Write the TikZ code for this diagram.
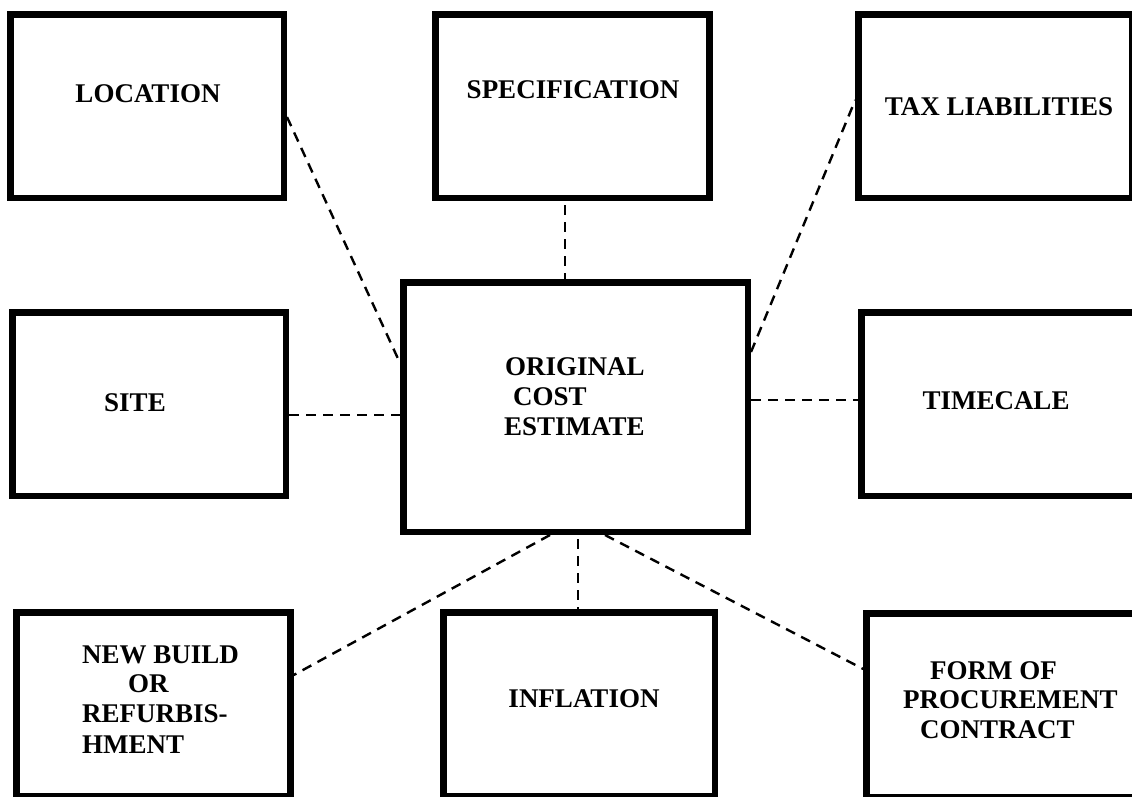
\documentclass[tikz,border=0pt]{standalone}
\usepackage{fontspec}
\setmainfont{Liberation Serif}
\begin{document}
\begin{tikzpicture}[x=1pt,y=-1pt,
  box/.style={draw=black,line width=6.5pt,inner sep=0pt,minimum width=274pt,minimum height=183.5pt},
  lbl/.style={inner sep=0pt,font=\fontsize{27}{30}\selectfont\bfseries},
  link/.style={draw=black,line width=2.4pt,dash pattern=on 10pt off 7pt}]
\clip (0,0) rectangle (1132,796);
\fill[white] (0,0) rectangle (1132,796);
% boxes
\node[box,minimum width=273.5pt] (loc) at (147,106) {};
\node[box] (spec) at (572.5,106) {};
\node[box] (tax) at (995.5,106) {};
\node[box,minimum width=273.5pt] (site) at (149,404) {};
\node[box,minimum width=344.5pt,minimum height=249.5pt] (est) at (575.5,407) {};
\node[box] (time) at (998.5,404) {};
\node[box] (newb) at (153.5,704) {};
\node[box,minimum width=271.5pt] (infl) at (579,704) {};
\node[box] (form) at (1003.5,705) {};
% texts
\node[lbl,anchor=base] (locT) at (148,102) {LOCATION};
\node[lbl,anchor=base] (specT) at (573,98) {SPECIFICATION};
\node[lbl,anchor=base] (taxT) at (999,115) {TAX LIABILITIES};
\node[lbl,anchor=base] (siteT) at (135,411) {SITE};
\node[lbl,anchor=base] (timeT) at (996,409) {TIMECALE};
\node[lbl,anchor=base] (inflT) at (584,707) {INFLATION};
\node[lbl,anchor=base west] (estA) at (505,375) {ORIGINAL};
\node[lbl,anchor=base west] (estB) at (513,405) {COST};
\node[lbl,anchor=base west] (estC) at (504,435) {ESTIMATE};
\node[lbl,anchor=base west] (newA) at (82,663) {NEW BUILD};
\node[lbl,anchor=base west] (newB) at (128,692) {OR};
\node[lbl,anchor=base west] (newC) at (82,722) {REFURBIS-};
\node[lbl,anchor=base west] (newD) at (82,753) {HMENT};
\node[lbl,anchor=base west] (formA) at (930,679) {FORM OF};
\node[lbl,anchor=base west] (formB) at (903,708) {PROCUREMENT};
\node[lbl,anchor=base west] (formC) at (920,738) {CONTRACT};
% connectors
\draw[link] ([yshift=-11pt]loc.east) -- ([yshift=44pt]est.west);
\draw[link] ([xshift=-7.5pt,yshift=-4pt]spec.south) -- ([xshift=-10.5pt]est.north);
\draw[link] ([yshift=55pt]est.east) -- ([yshift=6pt]tax.west);
\draw[link] ([yshift=-11pt]site.east) -- ([yshift=-8pt]est.west);
\draw[link] ([yshift=7pt]est.east) -- ([yshift=4pt]time.west);
\draw[link] ([xshift=-25.5pt]est.south) -- ([yshift=29pt]newb.east);
\draw[link] ([xshift=2.5pt,yshift=-4pt]est.south) -- ([xshift=-1pt]infl.north);
\draw[link] ([xshift=29.5pt]est.south) -- ([yshift=36pt]form.west);
\end{tikzpicture}
\end{document}
